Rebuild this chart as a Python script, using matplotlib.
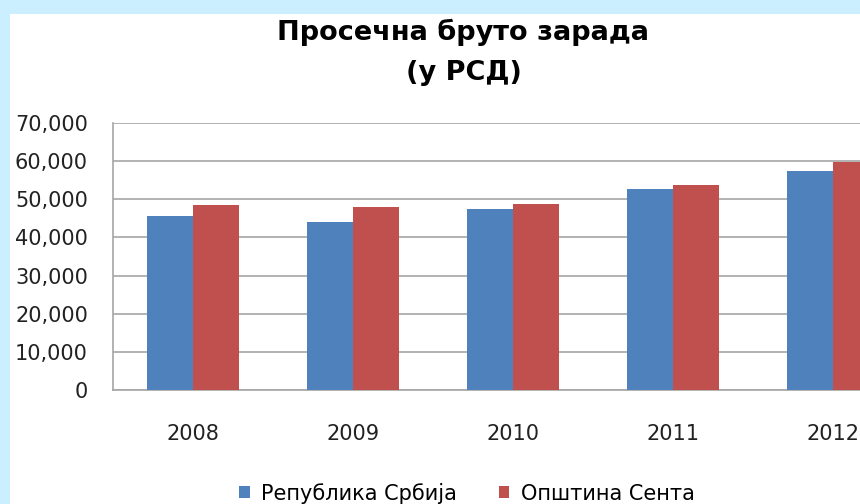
import matplotlib
matplotlib.use('Agg')
import matplotlib.pyplot as plt
import numpy as np
from matplotlib.patches import Rectangle

years = ['2008', '2009', '2010', '2011', '2012']
serbia = [45600, 44100, 47450, 52650, 57550]
senta = [48500, 47900, 48800, 53850, 59800]
series_names = ['Република Србија', 'Општина Сента']
y_ticks = [0, 10000, 20000, 30000, 40000, 50000, 60000, 70000]

blue = '#4F81BD'
red = '#C0504D'
grid = '#A6A6A6'

fig = plt.figure(figsize=(8.6, 5.04), dpi=100, facecolor='#CCEFFF')
# white chart area, cyan border on the left and top
fig.patches.append(Rectangle((10 / 860, 0), 1, 1 - 14 / 504,
                             transform=fig.transFigure, facecolor='white',
                             edgecolor='none', zorder=-5))

ax = fig.add_axes([113 / 860, 1 - 389.7 / 504, 800 / 860, 266.4 / 504])
ax.set_zorder(2)
ax.set_facecolor('white')

x = np.arange(len(years))
w = 1 / 3.5
ax.bar(x - w / 2, serbia, w, color=blue, label=series_names[0], zorder=3)
ax.bar(x + w / 2, senta, w, color=red, label=series_names[1], zorder=3)

ax.set_xlim(-0.5, len(years) - 0.5)
ax.set_ylim(0, 70000)
ax.set_yticks(y_ticks)
ax.set_yticklabels([f'{v:,}' for v in y_ticks])
ax.set_xticks(x)
ax.set_xticklabels(years)
ax.tick_params(axis='both', length=0, labelsize=15, colors='#222222')
ax.tick_params(axis='y', pad=18)
ax.tick_params(axis='x', pad=25)
ax.yaxis.grid(True, color=grid, linewidth=1.2, zorder=0)

for side in ['top', 'right']:
    ax.spines[side].set_visible(False)
for side in ['left', 'bottom']:
    ax.spines[side].set_color(grid)
    ax.spines[side].set_linewidth(1.2)

fig.text(463 / 860, 1 - 32 / 504, 'Просечна бруто зарада', ha='center', va='center',
         fontsize=19.5, fontweight='bold', family='DejaVu Sans')
fig.text(464 / 860, 1 - 73 / 504, '(у РСД)', ha='center', va='center',
         fontsize=19.5, fontweight='bold', family='DejaVu Sans')

fig.legend(loc='center', bbox_to_anchor=(467 / 860, 1 - 493 / 504), ncol=2,
           frameon=False, fontsize=15, handlelength=0.5, handleheight=0.5,
           columnspacing=2.0, handletextpad=0.55)

fig.savefig('out.png', dpi=100, facecolor=fig.get_facecolor())
